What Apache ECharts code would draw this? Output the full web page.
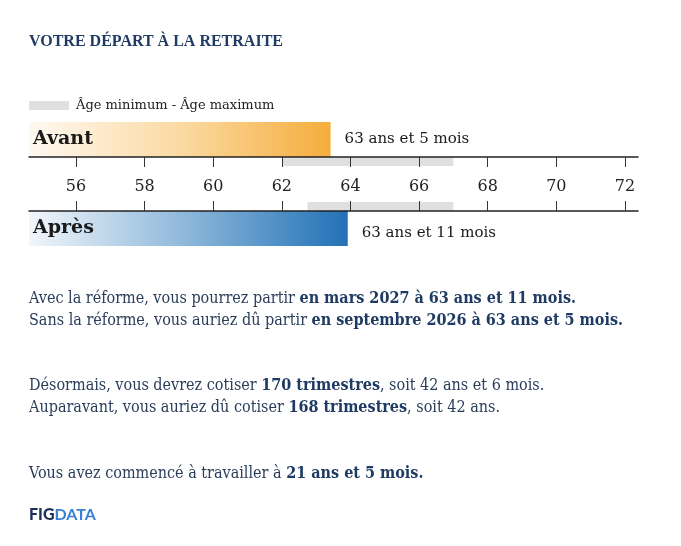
<!DOCTYPE html>
<html><head><meta charset="utf-8">
<script src="https://cdn.jsdelivr.net/npm/echarts@6/dist/echarts.min.js"></script>
<style>html,body{margin:0;padding:0;background:#fff;}#c{width:681px;height:546px;}</style>
</head><body><div id="c"></div>
<script>
const categories = ['Avant', 'Après'];
const ages = [63.42, 63.92];
const ageLabels = ['63 ans et 5 mois', '63 ans et 11 mois'];
const rangeMin = [62, 62.75];
const rangeMax = [67, 67];
const tickValues = [56, 58, 60, 62, 64, 66, 68, 70, 72];
const axisMin = 54.63, axisMax = 72.38;

const SERIF = '"Liberation Serif", "DejaVu Serif", serif';
const PARA = '"DejaVu Serif Condensed", "DejaVu Serif", serif';
const NUMF = '"DejaVu Serif", serif';
const navy = '#1f3b63';
const txt = '#2a3d5a';

const gradAvant = {type:'linear',x:0,y:0,x2:1,y2:0,colorStops:[{offset:0,color:'#fff9f1'},{offset:0.5,color:'#fbdaa3'},{offset:1,color:'#f5ad3c'}]};
const gradApres = {type:'linear',x:0,y:0,x2:1,y2:0,colorStops:[{offset:0,color:'#f1f6fb'},{offset:0.5,color:'#8cb6da'},{offset:1,color:'#2271b6'}]};

const rangeCats = ['a','b','c','d','e','f'];
const baseData = rangeCats.map((c,i)=> i===0 ? rangeMin[0] : (i===5 ? rangeMin[1] : '-'));
const spanData = rangeCats.map((c,i)=> i===0 ? rangeMax[0]-rangeMin[0] : (i===5 ? rangeMax[1]-rangeMin[1] : '-'));

const chart = echarts.init(document.getElementById('c'));
const gl = 29, gr = 43;
const P = 16, LH = 22;
const richB = {b:{fontWeight:'bold', fontFamily:PARA, fontSize:P, fill:navy, lineHeight:LH}};
chart.setOption({
  animation:false,
  title:{text:'VOTRE DÉPART À LA RETRAITE', left:29, top:34, padding:0, textStyle:{fontFamily:SERIF, fontWeight:'bold', fontSize:16, color:navy}},
  legend:{data:['Âge minimum - Âge maximum'], left:29, top:99, padding:0, icon:'rect', itemWidth:40, itemHeight:9, itemGap:8,
    textStyle:{fontFamily:NUMF, fontSize:13, color:'#222', padding:[0,0,0,2]}},
  grid:[
    {left:gl, right:gr, top:122, height:35},
    {left:gl, right:gr, top:157, height:54},
    {left:gl, right:gr, top:211, height:35}
  ],
  xAxis:[
    {gridIndex:0, type:'value', min:axisMin, max:axisMax, show:false},
    {gridIndex:1, type:'value', min:axisMin, max:axisMax, position:'top', z:10,
      axisLine:{show:true, lineStyle:{color:'#222', width:1.5}},
      axisTick:{show:true, inside:true, length:10, customValues:tickValues, lineStyle:{color:'#333'}},
      axisLabel:{show:false}, splitLine:{show:false}},
    {gridIndex:1, type:'value', min:axisMin, max:axisMax, position:'bottom', z:10,
      axisLine:{show:true, lineStyle:{color:'#222', width:1.5}},
      axisTick:{show:true, inside:true, length:10, customValues:tickValues, lineStyle:{color:'#333'}},
      axisLabel:{show:true, inside:true, margin:16, customValues:tickValues, fontFamily:NUMF, fontSize:16, color:'#222'},
      splitLine:{show:false}},
    {gridIndex:2, type:'value', min:axisMin, max:axisMax, show:false}
  ],
  yAxis:[
    {gridIndex:0, type:'category', data:[categories[0]], z:10, axisLine:{show:false}, axisTick:{show:false},
      axisLabel:{inside:true, margin:4, padding:[3,0,0,0], fontFamily:NUMF, fontWeight:'bold', fontSize:19, color:'#1a1a1a'}},
    {gridIndex:1, type:'category', data:rangeCats, inverse:true, show:false},
    {gridIndex:2, type:'category', data:[categories[1]], z:10, axisLine:{show:false}, axisTick:{show:false},
      axisLabel:{inside:true, margin:4, padding:[12,0,0,0], fontFamily:NUMF, fontWeight:'bold', fontSize:19, color:'#1a1a1a'}}
  ],
  series:[
    {type:'bar', xAxisIndex:0, yAxisIndex:0, data:[ages[0]], barWidth:'100%', itemStyle:{color:gradAvant},
      label:{show:true, position:'right', distance:14, formatter:()=>ageLabels[0], fontFamily:NUMF, fontSize:15, color:'#1a1a1a'}},
    {type:'bar', xAxisIndex:3, yAxisIndex:2, data:[ages[1]], barWidth:'100%', itemStyle:{color:gradApres},
      label:{show:true, position:'right', distance:14, offset:[0,5], formatter:()=>ageLabels[1], fontFamily:NUMF, fontSize:15, color:'#1a1a1a'}},
    {type:'bar', name:'base', xAxisIndex:1, yAxisIndex:1, stack:'r', data:baseData, barWidth:'100%', itemStyle:{color:'rgba(0,0,0,0)'}, silent:true},
    {type:'bar', name:'Âge minimum - Âge maximum', xAxisIndex:1, yAxisIndex:1, stack:'r', data:spanData, barWidth:'100%', itemStyle:{color:'#e0e0e0'}}
  ],
  graphic:[
    {type:'text', left:29, top:288, style:{text:'Avec la réforme, vous pourrez partir {b|en mars 2027 à 63 ans et 11 mois.}\nSans la réforme, vous auriez dû partir {b|en septembre 2026 à 63 ans et 5 mois.}',
      rich:richB, fontFamily:PARA, fontSize:P, lineHeight:LH, fill:txt}},
    {type:'text', left:29, top:375, style:{text:'Désormais, vous devrez cotiser {b|170 trimestres}, soit 42 ans et 6 mois.\nAuparavant, vous auriez dû cotiser {b|168 trimestres}, soit 42 ans.',
      rich:richB, fontFamily:PARA, fontSize:P, lineHeight:LH, fill:txt}},
    {type:'text', left:29, top:463, style:{text:'Vous avez commencé à travailler à {b|21 ans et 5 mois.}',
      rich:richB, fontFamily:PARA, fontSize:P, lineHeight:LH, fill:txt}},
    {type:'text', left:29, top:507, style:{text:'{f|FIG}{d|DATA}',
      rich:{f:{fontFamily:'Lato', fontWeight:900, fontSize:16, fill:'#1d3157'}, d:{fontFamily:'Lato', fontWeight:'bold', fontSize:16, fill:'#3a7fd8'}}}}
  ]
});
</script></body></html>
